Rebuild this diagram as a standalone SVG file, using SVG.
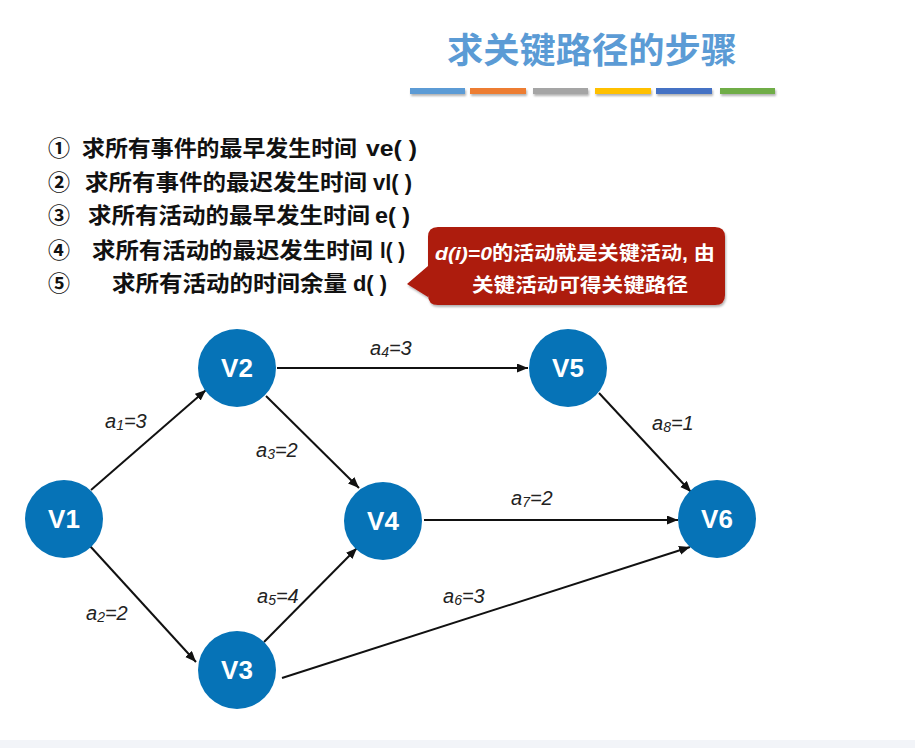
<svg xmlns="http://www.w3.org/2000/svg" width="915" height="748" viewBox="0 0 915 748">
<defs>
<style>
.ttl{font-family:"Noto Sans CJK SC","Liberation Sans",sans-serif;font-weight:bold;font-size:35px;fill:#5b9bd5}
.li{font-family:"Liberation Sans","Noto Sans CJK SC",sans-serif;font-weight:bold;font-size:22px;fill:#111}
.cj{font-family:"Noto Sans CJK SC",sans-serif;font-weight:bold;font-size:22px;fill:#111}
.co{font-family:"Liberation Sans","Noto Sans CJK SC",sans-serif;font-weight:bold;font-size:19px;fill:#fff}
.nd{fill:#0673b7}
.nt{font-family:"Liberation Sans",Arial,sans-serif;font-weight:bold;font-size:26px;fill:#fff;text-anchor:middle}
.ed{stroke:#111;stroke-width:2;fill:none;marker-end:url(#ah)}
.el{font-family:"Liberation Sans",Arial,sans-serif;font-style:italic;font-size:20px;fill:#222}
.bar{filter:url(#sh)}
</style>
<marker id="ah" markerUnits="userSpaceOnUse" markerWidth="12" markerHeight="10" refX="11" refY="4.5" orient="auto">
<path d="M0,0 L11,4.5 L0,9 z" fill="#111"/>
</marker>
<filter id="sh" x="-10%" y="-50%" width="120%" height="250%">
<feDropShadow dx="1" dy="2" stdDeviation="1.2" flood-color="#000" flood-opacity="0.3"/>
</filter>
</defs>
<rect x="0" y="0" width="915" height="748" fill="#fff"/>
<rect x="0" y="740" width="915" height="8" fill="#f2f4f8"/>

<g id="title">
<text class="ttl" x="447" y="63" textLength="290" lengthAdjust="spacingAndGlyphs">求关键路径的步骤</text>
<rect class="bar" x="410" y="88" width="55" height="6" fill="#5b9bd5"/>
<rect class="bar" x="470" y="88" width="56" height="6" fill="#ed7d31"/>
<rect class="bar" x="533" y="88" width="55" height="6" fill="#a5a5a5"/>
<rect class="bar" x="595" y="88" width="56" height="6" fill="#ffc000"/>
<rect class="bar" x="656" y="88" width="56" height="6" fill="#4472c4"/>
<rect class="bar" x="720" y="88" width="55" height="6" fill="#70ad47"/>
</g>

<g id="steps">
<text class="cj" x="48" y="156">①</text>
<text class="cj" x="82" y="156" textLength="275" lengthAdjust="spacingAndGlyphs">求所有事件的最早发生时间</text>
<text class="li" x="366" y="156" textLength="51" lengthAdjust="spacingAndGlyphs">ve( )</text>
<text class="cj" x="48" y="190">②</text>
<text class="cj" x="85" y="190" textLength="282" lengthAdjust="spacingAndGlyphs">求所有事件的最迟发生时间</text>
<text class="li" x="373" y="190" textLength="39" lengthAdjust="spacingAndGlyphs">vl( )</text>
<text class="cj" x="48" y="223">③</text>
<text class="cj" x="88" y="223" textLength="282" lengthAdjust="spacingAndGlyphs">求所有活动的最早发生时间</text>
<text class="li" x="375" y="223" textLength="35" lengthAdjust="spacingAndGlyphs">e( )</text>
<text class="cj" x="48" y="258">④</text>
<text class="cj" x="92" y="258" textLength="281" lengthAdjust="spacingAndGlyphs">求所有活动的最迟发生时间</text>
<text class="li" x="380" y="258" textLength="25" lengthAdjust="spacingAndGlyphs">l( )</text>
<text class="cj" x="48" y="291">⑤</text>
<text class="cj" x="112" y="291" textLength="235" lengthAdjust="spacingAndGlyphs">求所有活动的时间余量</text>
<text class="li" x="353" y="291" textLength="34" lengthAdjust="spacingAndGlyphs">d( )</text>
</g>

<g id="callout">
<path d="M438,227 H715 Q725,227 725,237 V295 Q725,305 715,305 H438 Q428,305 428,295 V297 L407,284 L428,266 V237 Q428,227 438,227 Z" fill="#ad1a0b" filter="url(#sh)"/>
<text class="co" x="435" y="260" textLength="280" lengthAdjust="spacingAndGlyphs"><tspan font-style="italic">d(i)=0</tspan>的活动就是关键活动, 由</text>
<text class="co" x="472" y="292" textLength="216" lengthAdjust="spacingAndGlyphs">关键活动可得关键路径</text>
</g>

<g id="connectors">
<line class="ed" x1="91" y1="490" x2="206" y2="390"/>
<line class="ed" x1="90" y1="546" x2="196" y2="662"/>
<line class="ed" x1="266" y1="396" x2="359" y2="488"/>
<line class="ed" x1="277" y1="368" x2="528" y2="368"/>
<line class="ed" x1="264" y1="642" x2="357" y2="548"/>
<line class="ed" x1="282" y1="678" x2="690" y2="547"/>
<line class="ed" x1="424" y1="520" x2="678" y2="520"/>
<line class="ed" x1="599" y1="393" x2="691" y2="492"/>
<text class="el" x="105" y="428">a<tspan font-size="14" dy="2">1</tspan><tspan dy="-2">=3</tspan></text>
<text class="el" x="86" y="620">a<tspan font-size="14" dy="2">2</tspan><tspan dy="-2">=2</tspan></text>
<text class="el" x="256" y="457">a<tspan font-size="14" dy="2">3</tspan><tspan dy="-2">=2</tspan></text>
<text class="el" x="370" y="355">a<tspan font-size="14" dy="2">4</tspan><tspan dy="-2">=3</tspan></text>
<text class="el" x="257" y="603">a<tspan font-size="14" dy="2">5</tspan><tspan dy="-2">=4</tspan></text>
<text class="el" x="443" y="603">a<tspan font-size="14" dy="2">6</tspan><tspan dy="-2">=3</tspan></text>
<text class="el" x="511" y="505">a<tspan font-size="14" dy="2">7</tspan><tspan dy="-2">=2</tspan></text>
<text class="el" x="652" y="430">a<tspan font-size="14" dy="2">8</tspan><tspan dy="-2">=1</tspan></text>
</g>

<g id="V1"><circle class="nd" cx="64" cy="519" r="39"/><text class="nt" x="64" y="528">V1</text></g>
<g id="V2"><circle class="nd" cx="237" cy="368" r="39"/><text class="nt" x="237" y="377">V2</text></g>
<g id="V3"><circle class="nd" cx="237" cy="670" r="39"/><text class="nt" x="237" y="679">V3</text></g>
<g id="V4"><circle class="nd" cx="383" cy="521" r="39"/><text class="nt" x="383" y="530">V4</text></g>
<g id="V5"><circle class="nd" cx="568" cy="368" r="39"/><text class="nt" x="568" y="377">V5</text></g>
<g id="V6"><circle class="nd" cx="717" cy="519" r="39"/><text class="nt" x="717" y="528">V6</text></g>
</svg>
